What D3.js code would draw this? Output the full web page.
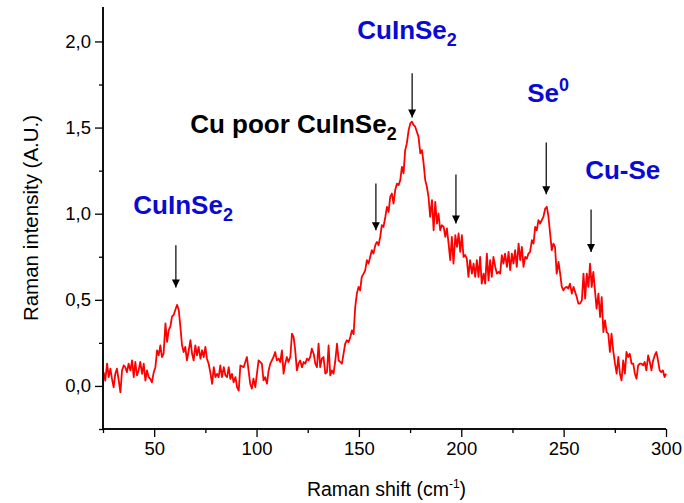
<!DOCTYPE html>
<html>
<head>
<meta charset="utf-8">
<script src="https://cdn.jsdelivr.net/npm/d3@7"></script>
<style>
  html, body { margin: 0; padding: 0; background: #fff; }
  svg { display: block; }
  text { font-family: "Liberation Sans", Arial, sans-serif; }
</style>
</head>
<body>
<svg id="chart" width="684" height="503"></svg>
<script>
// Raman shift (cm-1)
const shift = [
  25.3,26.1,27.0,27.8,28.6,29.4,30.2,31.0,31.8,32.7,33.5,34.3,35.1,35.9,36.7,37.5,38.4,39.2,40.0,40.8,
  41.6,42.4,43.2,44.1,44.9,45.7,46.5,47.3,48.1,48.9,49.8,50.6,51.4,52.2,53.0,53.8,54.6,55.5,56.3,57.1,
  57.9,58.7,59.5,60.3,61.2,62.0,62.8,63.6,64.4,65.2,66.0,66.9,67.7,68.5,69.3,70.1,70.9,71.7,72.6,73.4,
  74.2,75.0,75.8,76.6,77.4,78.3,79.1,79.9,80.7,81.5,82.3,83.1,84.0,84.8,85.6,86.4,87.2,88.0,88.8,89.7,
  90.5,91.3,92.1,93.7,95.3,96.1,96.9,97.7,98.5,99.4,100.2,101.0,101.8,102.6,103.4,104.2,105.1,105.9,106.7,107.5,
  108.3,109.1,109.9,110.8,111.6,112.4,113.2,114.0,114.8,115.6,116.5,117.3,118.1,118.9,119.7,120.5,121.3,122.2,123.0,123.8,
  124.6,125.4,126.2,127.0,127.9,128.7,129.5,130.3,131.1,131.9,132.7,133.6,134.4,135.2,136.0,136.8,137.6,138.4,139.3,140.1,
  140.9,141.7,142.5,143.3,144.1,145.0,145.8,146.6,147.4,148.2,149.0,149.8,150.6,151.4,152.3,153.1,153.9,154.7,155.5,156.3,
  157.1,158.0,158.8,159.6,160.4,161.2,162.0,162.9,163.7,164.5,165.3,166.1,166.9,167.7,168.6,169.4,170.2,171.0,171.8,172.6,
  173.4,174.3,175.1,175.9,176.7,177.5,178.3,179.1,180.0,180.8,181.6,182.4,183.2,184.0,184.8,185.7,186.5,187.3,188.1,188.9,
  189.7,190.5,191.4,192.2,193.0,193.8,194.6,195.4,196.2,197.1,197.9,198.7,199.5,200.3,201.1,201.9,202.7,203.5,204.3,205.2,
  206.0,206.8,207.6,208.4,209.2,210.0,210.9,211.7,212.5,213.3,214.1,214.9,215.7,216.6,217.4,218.2,219.0,219.8,220.6,221.4,
  222.3,223.1,223.9,224.7,225.5,226.3,227.1,228.0,228.8,229.6,230.4,231.2,232.0,232.8,233.6,234.5,235.3,236.1,236.9,237.7,
  238.5,239.3,240.1,241.0,241.8,242.6,243.4,244.2,245.0,245.8,246.6,247.5,248.3,249.1,249.9,250.7,251.5,252.3,253.1,254.0,
  254.8,255.6,256.4,257.2,258.0,258.9,259.7,260.5,261.3,262.1,262.9,263.7,264.5,265.3,266.1,267.0,267.8,268.6,269.4,270.2,
  271.0,271.8,272.6,273.4,274.2,275.1,275.9,276.7,277.5,278.3,279.1,279.9,280.7,281.5,282.3,283.2,284.0,284.8,285.6,286.4,
  287.2,288.0,288.8,289.6,290.4,291.3,292.1,292.9,293.7,294.5,295.3,296.1,296.9,297.7,298.5,299.3,300.0
];

// Raman intensity (A.U.)
const intensity = [
  0.080,0.031,0.129,0.051,0.100,0.041,-0.008,0.070,0.100,0.031,-0.037,0.090,0.119,0.109,0.080,0.129,0.090,0.148,0.051,0.139,
  0.061,0.090,0.139,0.070,0.129,0.031,0.090,0.051,0.041,0.021,0.080,0.109,0.207,0.178,0.236,0.168,0.188,0.363,0.256,0.324,
  0.344,0.402,0.412,0.441,0.471,0.441,0.344,0.236,0.197,0.227,0.148,0.207,0.266,0.188,0.148,0.236,0.178,0.227,0.158,0.207,
  0.168,0.227,0.158,0.129,0.080,0.012,0.109,0.051,0.070,0.051,0.119,0.051,0.109,0.061,0.051,0.109,0.041,0.070,0.021,0.051,
  -0.008,-0.027,0.119,0.109,0.168,0.090,0.013,-0.016,0.042,-0.007,0.071,0.148,0.139,0.129,0.032,0.051,0.013,0.090,0.129,0.148,
  0.168,0.197,0.148,0.158,0.139,0.206,0.071,0.129,0.168,0.139,0.168,0.303,0.284,0.206,0.090,0.129,0.148,0.109,0.139,0.129,
  0.158,0.148,0.168,0.216,0.187,0.129,0.109,0.245,0.109,0.158,0.168,0.071,0.080,0.235,0.061,0.090,0.071,0.139,0.245,0.148,
  0.139,0.129,0.187,0.245,0.265,0.255,0.284,0.323,0.300,0.458,0.536,0.575,0.555,0.633,0.652,0.672,0.730,0.710,0.749,0.788,
  0.768,0.817,0.836,0.817,0.865,0.933,0.923,0.981,1.040,1.010,1.098,1.117,1.059,1.136,1.175,1.166,1.195,1.272,1.234,1.369,
  1.408,1.485,1.524,1.534,1.515,1.505,1.476,1.447,1.350,1.369,1.292,1.195,1.156,1.098,0.981,1.079,0.904,1.069,0.943,1.001,
  0.904,0.933,0.923,0.865,0.914,0.826,0.730,0.865,0.710,0.875,0.807,0.885,0.778,0.875,0.749,0.760,0.739,0.633,0.730,0.652,
  0.710,0.633,0.730,0.633,0.749,0.594,0.652,0.594,0.768,0.613,0.730,0.633,0.749,0.691,0.652,0.662,0.652,0.759,0.710,0.768,
  0.691,0.778,0.672,0.768,0.710,0.788,0.691,0.826,0.730,0.807,0.691,0.749,0.739,0.768,0.778,0.846,0.826,0.923,0.904,0.962,
  0.943,0.962,0.981,1.030,1.040,0.981,0.885,0.788,0.826,0.807,0.652,0.720,0.652,0.575,0.555,0.570,0.575,0.565,0.594,0.536,
  0.575,0.546,0.516,0.478,0.478,0.497,0.652,0.507,0.652,0.575,0.710,0.575,0.662,0.555,0.449,0.536,0.400,0.516,0.313,0.381,
  0.313,0.303,0.197,0.303,0.206,0.129,0.071,0.168,0.071,0.032,0.148,0.071,0.197,0.168,0.187,0.129,0.129,0.071,0.042,0.119,
  0.129,0.129,0.119,0.139,0.090,0.177,0.139,0.090,0.148,0.177,0.197,0.148,0.090,0.080,0.090,0.051,0.071
];

// Axis ticks and their printed labels (decimal comma)
const xMajorTicks = [50, 100, 150, 200, 250, 300];
const xMinorTicks = [25, 75, 125, 175, 225, 275];
const yMajorTicks = [0, 0.5, 1.0, 1.5, 2.0];
const yMajorLabels = ["0,0", "0,5", "1,0", "1,5", "2,0"];
const yMinorTicks = [-0.25, 0.25, 0.75, 1.25, 1.75];

// Peak markers: shift position, arrow tail and tip intensities
const arrowShift = [60.6, 158.3, 176.0, 197.4, 241.5, 263.4];
const arrowTail  = [0.817, 1.176, 1.815, 1.228, 1.414, 1.024];
const arrowTip   = [0.571, 0.904, 1.559, 0.943, 1.113, 0.778];

// Phase labels: text, subscript/superscript, anchor point in data units, colour
const labelMain  = ["CuInSe", "Cu poor CuInSe", "CuInSe", "Se", "Cu-Se"];
const labelIndex = ["2", "2", "2", "0", ""];
const labelKind  = ["sub", "sub", "sub", "sup", ""];
const labelX     = [149.2, 67.6, 39.8, 232.2, 260.5];
const labelY     = [2.015, 1.468, 1.001, 1.648, 1.200];
const labelColor = ["#0a0ad2", "#000000", "#0a0ad2", "#0a0ad2", "#0a0ad2"];

const svg = d3.select("#chart");
const margin = { left: 103, right: 18, top: 7, bottom: 74 };
const W = 684, H = 503;

const x = d3.scaleLinear().domain([25, 300]).range([margin.left, W - margin.right]);
const y = d3.scaleLinear().domain([-0.25, 2.2]).range([H - margin.bottom, margin.top]);

// Spectrum
const points = shift.map((s, i) => [s, intensity[i]]);
svg.append("path")
  .datum(points)
  .attr("fill", "none")
  .attr("stroke", "#ff0000")
  .attr("stroke-width", 1.8)
  .attr("stroke-linejoin", "round")
  .attr("d", d3.line().x(d => x(d[0])).y(d => y(d[1])));

// Axes
const xAxisG = svg.append("g").attr("transform", `translate(0,${y(-0.25)})`);
xAxisG.call(d3.axisBottom(x).tickValues(xMajorTicks).tickSize(8).tickPadding(5).tickFormat(d3.format("d")));
xAxisG.append("g").call(d3.axisBottom(x).tickValues(xMinorTicks).tickSize(4).tickFormat(""));

const yAxisG = svg.append("g").attr("transform", `translate(${x(25)},0)`);
yAxisG.call(d3.axisLeft(y).tickValues(yMajorTicks).tickSize(8).tickPadding(4)
  .tickFormat((d, i) => yMajorLabels[i]));
yAxisG.append("g").call(d3.axisLeft(y).tickValues(yMinorTicks).tickSize(4).tickFormat(""));

svg.selectAll(".domain").attr("stroke", "#000").attr("stroke-width", 1.5);
svg.selectAll(".tick line").attr("stroke", "#000").attr("stroke-width", 1.3);
svg.selectAll(".tick text").attr("font-size", 18.5).attr("fill", "#000")
  .attr("font-family", "'Liberation Sans', Arial, sans-serif");
// plain axis lines without the end caps
xAxisG.selectAll(".domain").attr("d", `M${x(25)},0H${x(300)}`);
yAxisG.selectAll(".domain").attr("d", `M0,${y(-0.25)}V${y(2.2)}`);

// Axis titles
const xt = svg.append("text")
  .attr("x", (x(25) + x(300)) / 2 + 2).attr("y", 496)
  .attr("text-anchor", "middle").attr("font-size", 19.5);
xt.append("tspan").text("Raman shift (cm");
xt.append("tspan").attr("font-size", 12).attr("dy", -8).text("-1");
xt.append("tspan").attr("dy", 8).text(")");

svg.append("text")
  .attr("transform", `translate(38,${(y(-0.25) + y(2.2)) / 2}) rotate(-90)`)
  .attr("text-anchor", "middle").attr("font-size", 20.5)
  .text("Raman intensity (A.U.)");

// Peak arrows
svg.append("defs").append("marker")
  .attr("id", "head").attr("viewBox", "0 0 10 10")
  .attr("refX", 10).attr("refY", 5)
  .attr("markerUnits", "userSpaceOnUse")
  .attr("markerWidth", 13).attr("markerHeight", 8)
  .attr("orient", "auto")
  .append("path").attr("d", "M0,0L10,5L0,10Z").attr("fill", "#000");

arrowShift.forEach((s, i) => {
  svg.append("line")
    .attr("x1", x(s)).attr("x2", x(s))
    .attr("y1", y(arrowTail[i])).attr("y2", y(arrowTip[i]))
    .attr("stroke", "#000").attr("stroke-width", 1.2)
    .attr("marker-end", "url(#head)");
});

// Phase labels
labelMain.forEach((t, i) => {
  const txt = svg.append("text")
    .attr("x", x(labelX[i])).attr("y", y(labelY[i]))
    .attr("font-size", 26).attr("font-weight", "bold")
    .attr("fill", labelColor[i]);
  txt.append("tspan").text(t);
  if (labelKind[i] === "sub") {
    txt.append("tspan").attr("font-size", 18).attr("dy", 7).text(labelIndex[i]);
  } else if (labelKind[i] === "sup") {
    txt.append("tspan").attr("font-size", 18).attr("dy", -11).text(labelIndex[i]);
  }
});
</script>
</body>
</html>
